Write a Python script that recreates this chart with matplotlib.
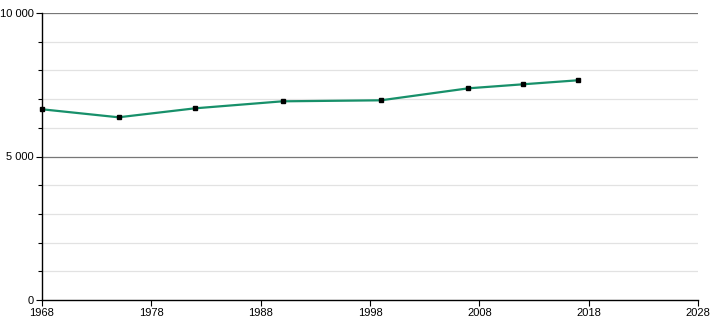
import matplotlib
matplotlib.use("Agg")
import matplotlib.pyplot as plt
from matplotlib.ticker import MultipleLocator, FuncFormatter

years = [1968, 1975, 1982, 1990, 1999, 2007, 2012, 2017]
population = [6645, 6366, 6679, 6923, 6958, 7376, 7516, 7655]
x_ticks = [1968, 1978, 1988, 1998, 2008, 2018, 2028]
y_major = [0, 5000, 10000]

plt.rcParams['font.family'] = ['Liberation Sans', 'DejaVu Sans']
fig = plt.figure(figsize=(7.1, 3.2), dpi=100)
ax = fig.add_axes([42/710, 20/320, (698-42)/710, (300-13)/320])

ax.set_xlim(1968, 2028)
ax.set_ylim(0, 10000)

for v in range(1000, 10000, 1000):
    if v % 5000:
        ax.axhline(v, color='#e2e2e2', lw=0.9, zorder=1)
for v in y_major[1:]:
    ax.axhline(v, color='#777777', lw=0.9, zorder=1)

ax.plot(years, population, color='#17906a', lw=1.6, zorder=3)
ax.plot(years, population, ls='none', marker='s', ms=3.5, color='black', zorder=4, clip_on=False)

ax.set_xticks(x_ticks)
ax.set_yticks(y_major)
ax.yaxis.set_minor_locator(MultipleLocator(1000))
ax.yaxis.set_major_formatter(FuncFormatter(lambda v, p: f"{int(v):,}".replace(",", " ")))

for s in ['top', 'right']:
    ax.spines[s].set_visible(False)
for s in ['left', 'bottom']:
    ax.spines[s].set_color('black')
    ax.spines[s].set_linewidth(1.0)

ax.tick_params(axis='both', which='major', labelsize=8, length=4, width=0.8, colors='black', pad=2)
ax.tick_params(axis='y', which='minor', length=3, width=0.8)

fig.savefig("out.png", dpi=100)
